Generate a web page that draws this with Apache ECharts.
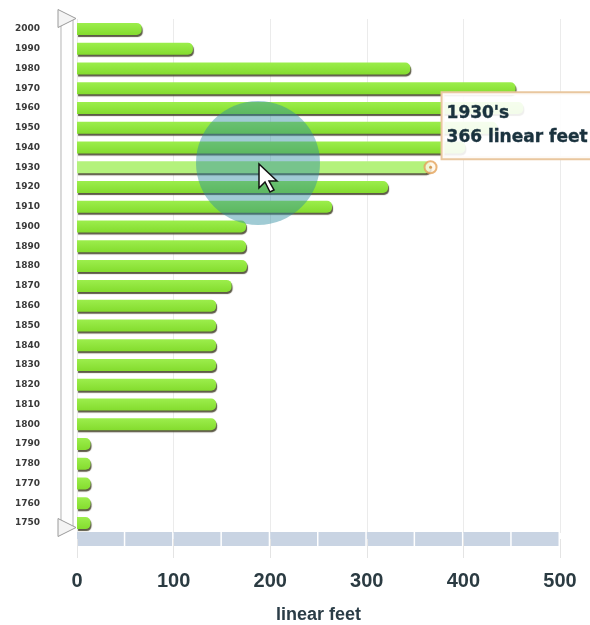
<!DOCTYPE html>
<html>
<head>
<meta charset="utf-8">
<script src="https://cdn.jsdelivr.net/npm/echarts@6/dist/echarts.min.js"></script>
<style>
html,body{margin:0;padding:0;background:#fff;}
#chart{width:590px;height:625px;}
</style>
</head>
<body>
<div id="chart"></div>
<script>
// decades, top to bottom
const decades = ['2000','1990','1980','1970','1960','1950','1940','1930','1920','1910','1900','1890','1880','1870','1860','1850','1840','1830','1820','1810','1800','1790','1780','1770','1760','1750'];
// linear feet per decade
const linearFeet = [67, 120, 345, 454, 462, 435, 402, 366, 322, 264, 175, 175, 176, 160, 144, 144, 144, 144, 144, 144, 144, 14, 14, 14, 14, 14];
const xTicks = [0, 100, 200, 300, 400, 500];
const highlightDecade = '1930';
const xAxisTitle = 'linear feet';

const hiIndex = decades.indexOf(highlightDecade);
const barData = linearFeet.map((v, i) => {
  if (i !== hiIndex) return v;
  return {
    value: v,
    itemStyle: { color: '#b4f27c' },
    label: {
      show: true,
      position: ['100%', 0],
      offset: [12, -68],
      align: 'left',
      verticalAlign: 'top',
      formatter: decades[i] + "'s\n" + v + ' ' + xAxisTitle,
      fontFamily: 'DejaVu Sans',
      fontWeight: 'bold',
      fontSize: 17,
      lineHeight: 24,
      color: '#1a323e',
      textBorderColor: '#1a323e',
      textBorderWidth: 0.4,
      backgroundColor: 'rgba(255,255,255,0.9)',
      borderColor: '#e9c79f',
      borderWidth: 2,
      padding: [8, 40, 9, 4]
    }
  };
});

const chart = echarts.init(document.getElementById('chart'), null, { renderer: 'canvas' });
chart.setOption({
  animation: false,
  backgroundColor: '#ffffff',
  grid: { left: 77, right: 30, top: 19, bottom: 92, containLabel: false, outerBoundsMode: 'none' },
  xAxis: {
    type: 'value',
    min: xTicks[0],
    max: xTicks[xTicks.length - 1],
    interval: 100,
    offset: 6,
    name: xAxisTitle,
    nameLocation: 'middle',
    nameGap: 67,
    nameTextStyle: { fontFamily: 'Liberation Sans', fontWeight: 'bold', fontSize: 18, color: '#2b3d47' },
    axisLine: { show: true, lineStyle: { color: '#c9d4e3', width: 14, type: [46.8, 1.5], cap: 'butt' } },
    axisTick: { show: true, length: 19, lineStyle: { color: '#e4e4e4', width: 1 } },
    axisLabel: { margin: 32, fontFamily: 'Liberation Sans', fontWeight: 'bold', fontSize: 20, color: '#2b3b42' },
    splitLine: { show: true, lineStyle: { color: '#ebebeb', width: 1 } }
  },
  yAxis: {
    type: 'category',
    data: decades,
    inverse: true,
    axisLine: { show: false },
    axisTick: { show: false },
    axisLabel: { margin: 37, fontFamily: 'DejaVu Sans', fontWeight: 'bold', fontSize: 9, color: '#3a3a3a' },
    splitLine: { show: false }
  },
  dataZoom: [{
    type: 'slider',
    yAxisIndex: 0,
    orient: 'vertical',
    left: 60,
    width: 13,
    top: 16,
    bottom: 98,
    start: 0,
    end: 100,
    showDetail: false,
    showDataShadow: false,
    brushSelect: false,
    moveHandleSize: 0,
    zoomLock: true,
    backgroundColor: '#f3f3f3',
    fillerColor: 'rgba(255,255,255,0.85)',
    borderColor: '#b5b5b5',
    handleIcon: 'path://M0,0 L10,0 L5,10 Z',
    handleSize: 18,
    handleStyle: { color: '#f4f4f4', borderColor: '#9a9a9a', borderWidth: 1 }
  }],
  series: [{
    type: 'bar',
    data: barData,
    barWidth: 12,
    itemStyle: {
      color: new echarts.graphic.LinearGradient(0, 0, 0, 1, [
        { offset: 0, color: '#9cee4c' },
        { offset: 1, color: '#84dc2e' }
      ]),
      borderRadius: [0, 5, 5, 0],
      shadowColor: 'rgba(75,72,50,0.9)',
      shadowOffsetX: 1,
      shadowOffsetY: 2,
      shadowBlur: 1
    },
    z: 2
  }, {
    type: 'scatter',
    data: [[linearFeet[hiIndex], highlightDecade]],
    symbol: 'circle',
    symbolSize: 12,
    itemStyle: { color: '#fff6e6', borderColor: '#e4a25a', borderWidth: 2 },
    z: 5
  }, {
    type: 'scatter',
    data: [[linearFeet[hiIndex], highlightDecade]],
    symbol: 'circle',
    symbolSize: 3,
    itemStyle: { color: '#d0883a' },
    z: 6
  }],
  graphic: [{
    type: 'circle',
    shape: { cx: 258, cy: 163, r: 62 },
    style: { fill: 'rgba(45,140,160,0.45)' },
    silent: true,
    z: 50
  }, {
    type: 'polygon',
    x: 259, y: 164,
    shape: { points: [[0,0],[0,24],[6,18],[11,28],[15,26],[10,17],[18,17]] },
    style: { fill: '#ffffff', stroke: '#111', lineWidth: 1.5 },
    silent: true,
    z: 51
  }]
});
</script>
</body>
</html>
